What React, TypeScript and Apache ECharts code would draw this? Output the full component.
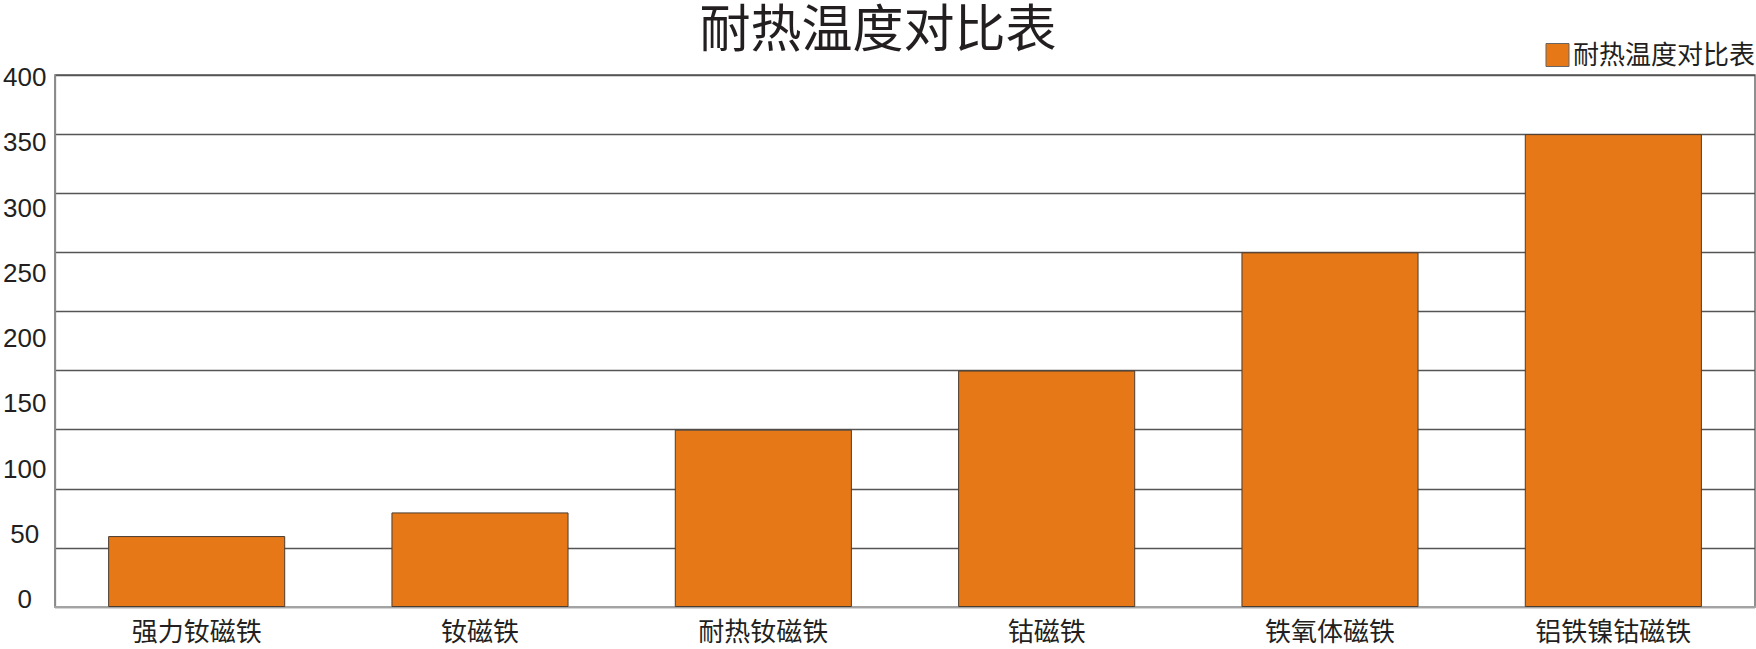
import React, { useEffect, useRef } from 'react'
import * as echarts from 'echarts'

const categories = ['强力钕磁铁', '钕磁铁', '耐热钕磁铁', '钴磁铁', '铁氧体磁铁', '铝铁镍钴磁铁']
const temperatures = [60, 80, 150, 200, 300, 400]
const tickLabels = [0, 50, 100, 150, 200, 250, 300, 350, 400]

const FONT = '"Liberation Sans", "Noto Sans CJK SC", sans-serif'
const TEXT = '#231f20'

const App: React.FC = () => {
    const chartRef = useRef<HTMLDivElement | null>(null)

    useEffect(() => {
        document.body.style.margin = '0'
        if (!chartRef.current) return
        const chart = echarts.init(chartRef.current, undefined, { renderer: 'svg' })

        chart.setOption({
            animation: false,
            backgroundColor: '#ffffff',
            title: {
                text: '耐热温度对比表',
                left: 'center',
                top: 3,
                padding: 0,
                textStyle: { fontSize: 51, lineHeight: 52, fontWeight: 'normal', color: TEXT, fontFamily: FONT },
            },
            legend: {
                right: 1,
                top: 42,
                padding: 0,
                icon: 'rect',
                itemWidth: 23,
                itemHeight: 23,
                itemGap: 5,
                itemStyle: { borderColor: '#666666', borderWidth: 1 },
                textStyle: { fontSize: 26, color: TEXT, fontFamily: FONT, padding: [0, 0, 0, -1] },
                data: ['耐热温度对比表'],
            },
            grid: [
                {
                    left: 55, right: 1, top: 75, bottom: 42,
                    show: true, borderColor: '#555555', borderWidth: 1.3,
                },
                // the printed tick labels do not sit on the gridlines in the original
                { left: 55, right: 1, top: 77, bottom: 50 },
            ],
            xAxis: [
                {
                    type: 'category',
                    data: categories,
                    axisTick: { show: false },
                    axisLine: { lineStyle: { color: '#a3a3a3', width: 2 } },
                    axisLabel: { fontSize: 26, lineHeight: 26, color: TEXT, fontFamily: FONT, margin: 12 },
                },
                { type: 'category', data: categories, gridIndex: 1, show: false },
            ],
            yAxis: [
                {
                    type: 'value',
                    min: 0,
                    max: 450,
                    interval: 50,
                    axisLabel: { show: false },
                    axisLine: { show: true, lineStyle: { color: '#8a8a8a', width: 1.3 } },
                    splitLine: { lineStyle: { color: '#555555', width: 1.3 } },
                },
                {
                    type: 'value',
                    gridIndex: 1,
                    min: tickLabels[0],
                    max: tickLabels[tickLabels.length - 1],
                    interval: 50,
                    axisLine: { show: false },
                    axisTick: { show: false },
                    splitLine: { show: false },
                    axisLabel: {
                        align: 'center',
                        margin: 34,
                        fontSize: 26,
                        color: TEXT,
                        fontFamily: FONT,
                    },
                },
            ],
            series: [
                {
                    name: '耐热温度对比表',
                    type: 'bar',
                    data: temperatures,
                    barWidth: '62.5%',
                    itemStyle: { color: '#e67817', borderColor: '#4a3c30', borderWidth: 1 },
                },
            ],
        })

        return () => {
            chart.dispose()
        }
    }, [])

    return <div ref={chartRef} style={{ width: '1756px', height: '649px' }} />
}

export default App
